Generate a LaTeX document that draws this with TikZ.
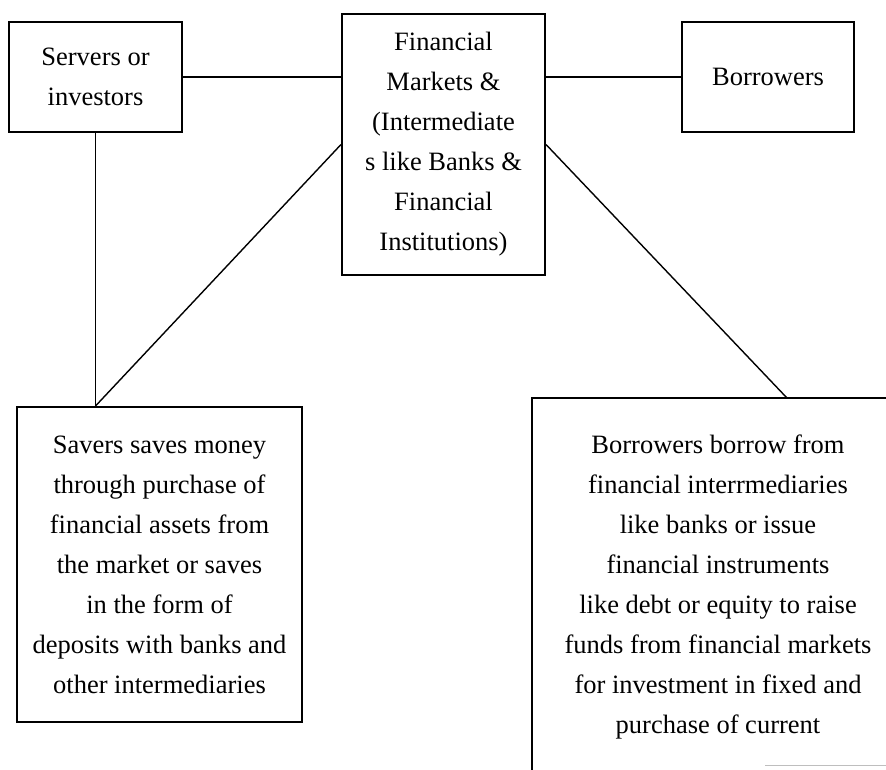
\documentclass[tikz,border=0pt]{standalone}
\usepackage{fontspec}
\setmainfont{Liberation Serif}
\usepackage{tikz}
\usepackage{xcolor}
\definecolor{edge}{RGB}{0,0,0}
\definecolor{trace}{RGB}{190,190,190}

\begin{document}
\begin{tikzpicture}[
            x = 1pt, y = -1pt,
            box/.style = {draw = edge, line width = 2pt, inner sep = 0pt,
                          align = center, font = \fontsize{26.5}{40}\selectfont},
            link/.style = {draw = edge, line width = 1.4pt}
            ]
            \useasboundingbox (0,0) rectangle (886,769);
            \clip (0,0) rectangle (886,769);
            \node[box, minimum width = 173pt, minimum height = 110pt] (servers) at (95.5,77)
                {Servers or\\investors};
            \node[box, minimum width = 203pt, minimum height = 261pt] (market) at (443.5,144.5)
                {Financial\\Markets \&\\(Intermediate\\s like Banks \&\\Financial\\Institutions)};
            \node[box, minimum width = 172pt, minimum height = 110pt] (borrowers) at (768,77)
                {Borrowers};
            \node[box, minimum width = 285pt, minimum height = 315pt] (savers) at (159.5,564.5)
                {Savers saves money\\through purchase of\\financial assets from\\the market or saves\\in the form of\\deposits with banks and\\other intermediaries};
            \node[box, minimum width = 372pt, minimum height = 378pt] (lend) at (718,587)
                {Borrowers borrow from\\financial interrmediaries\\like banks or issue\\financial instruments\\like debt or equity to raise\\funds from financial markets\\for investment in fixed and\\purchase of current};
            \coordinate (drop) at (servers.south |- savers.north);
            \coordinate (join) at (787,398);
            \draw[link] (servers.east) -- (servers.east -| market.west);
            \draw[link] (market.east |- borrowers.west) -- (borrowers.west);
            \draw[link] (servers.south) -- (drop);
            \draw[link] (market.west) -- (drop);
            \draw[link] (market.east) -- (join);
            \draw[trace, line width = 0.6pt] (765,765) -- (886,765);
        \end{tikzpicture}
\end{document}
